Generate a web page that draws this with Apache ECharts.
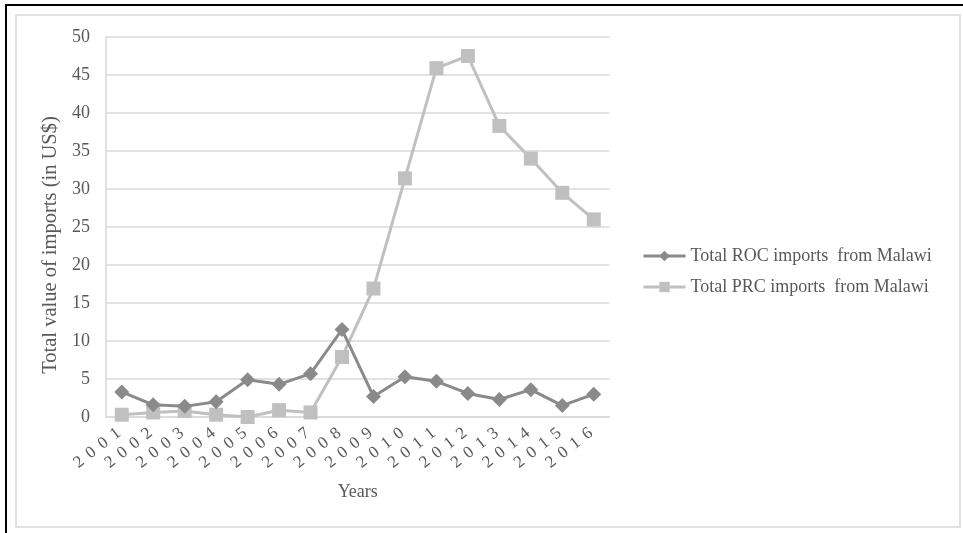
<!DOCTYPE html>
<html>
<head>
<meta charset="utf-8">
<script src="https://cdn.jsdelivr.net/npm/echarts@6/dist/echarts.min.js"></script>
<style>
html,body{margin:0;padding:0;background:#fff;}
#chart{width:963px;height:533px;}
</style>
</head>
<body>
<div id="chart"></div>
<script>
var years = ['2001','2002','2003','2004','2005','2006','2007','2008','2009','2010','2011','2012','2013','2014','2015','2016'];
var rocImports = [3.3, 1.6, 1.4, 2.0, 4.9, 4.3, 5.7, 11.5, 2.7, 5.3, 4.7, 3.1, 2.3, 3.6, 1.5, 3.0];
var prcImports = [0.3, 0.6, 0.8, 0.3, 0.0, 0.9, 0.6, 7.9, 16.9, 31.4, 45.9, 47.5, 38.3, 34.0, 29.5, 26.0];
var seriesNames = ['Total ROC imports  from Malawi', 'Total PRC imports  from Malawi'];
var yTicks = {min: 0, max: 50, interval: 5};

var FONT = 'Liberation Serif';
var TXT = '#595959';
var chart = echarts.init(document.getElementById('chart'), null, {renderer: 'canvas'});
chart.setOption({
  animation: false,
  backgroundColor: '#fff',
  graphic: [
    {type: 'rect', shape: {x: 6, y: 5, width: 970, height: 540}, style: {fill: 'none', stroke: '#000', lineWidth: 2}, silent: true},
    {type: 'rect', shape: {x: 16, y: 15, width: 944, height: 512}, style: {fill: 'none', stroke: '#d9d9d9', lineWidth: 1.5}, silent: true}
  ],
  grid: {left: 106, right: 353.5, top: 37, bottom: 116, containLabel: false},
  legend: {
    orient: 'vertical',
    left: 637,
    top: 242,
    itemWidth: 42,
    itemHeight: 13,
    itemGap: 13,
    lineStyle: {width: 3},
    textStyle: {fontFamily: FONT, fontSize: 18, color: TXT},
    data: seriesNames
  },
  xAxis: {
    type: 'category',
    data: years,
    boundaryGap: true,
    name: 'Years',
    nameLocation: 'middle',
    nameGap: 66,
    nameTextStyle: {fontFamily: FONT, fontSize: 18, color: TXT},
    axisLine: {show: true, lineStyle: {color: '#d9d9d9', width: 1.5}},
    axisTick: {show: false},
    axisLabel: {
      interval: 0,
      rotate: 38,
      margin: 12,
      formatter: function (v) { return v.split('').map(function (c) { return '{d|' + c + '}'; }).join(''); },
      rich: {d: {fontFamily: FONT, fontSize: 17, color: TXT, padding: [0, 3.5]}}
    }
  },
  yAxis: {
    type: 'value',
    min: yTicks.min,
    max: yTicks.max,
    interval: yTicks.interval,
    name: 'Total value of imports (in US$)',
    nameLocation: 'middle',
    nameRotate: 90,
    nameGap: 43,
    nameTextStyle: {fontFamily: FONT, fontSize: 20.5, color: TXT, padding: [0, 36, 0, 0]},
    axisLine: {show: true, lineStyle: {color: '#d9d9d9', width: 1.5}},
    axisTick: {show: false},
    splitLine: {show: true, lineStyle: {color: '#d9d9d9', width: 1.5}},
    axisLabel: {fontFamily: FONT, fontSize: 18, color: TXT, margin: 16}
  },
  series: [
    {
      name: seriesNames[0],
      type: 'line',
      data: rocImports,
      symbol: 'diamond',
      symbolSize: 15,
      lineStyle: {color: '#8a8a8a', width: 3},
      itemStyle: {color: '#8a8a8a'},
      z: 3
    },
    {
      name: seriesNames[1],
      type: 'line',
      data: prcImports,
      symbol: 'rect',
      symbolSize: 14,
      lineStyle: {color: '#c0c0c0', width: 3},
      itemStyle: {color: '#c0c0c0'},
      z: 2
    }
  ]
});
</script>
</body>
</html>
